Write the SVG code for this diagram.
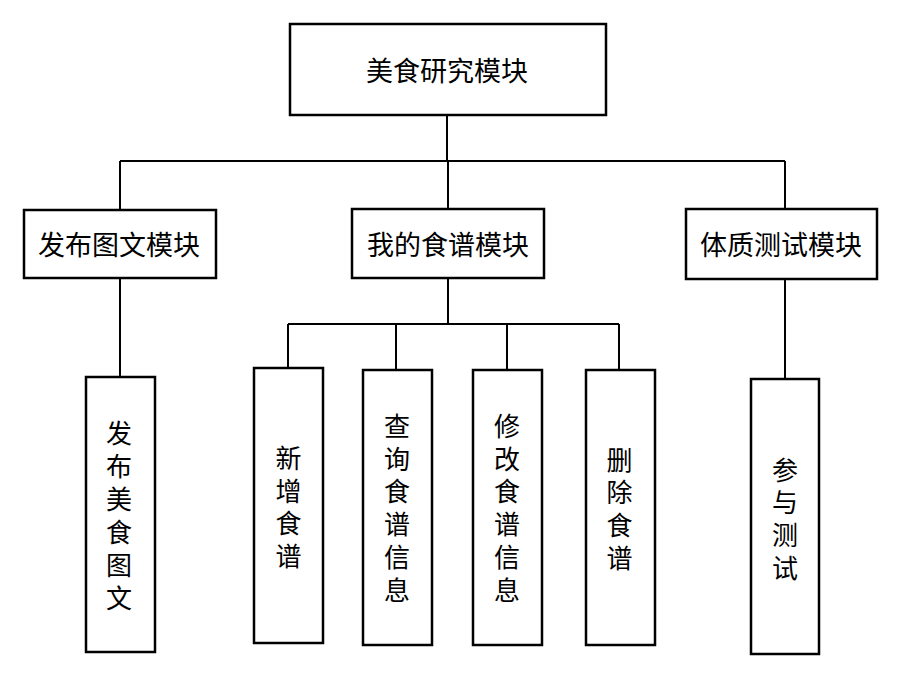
<svg xmlns="http://www.w3.org/2000/svg" width="901" height="681" viewBox="0 0 901 681">
<style>
.box{fill:#fff;stroke:#000;stroke-width:2.5}
.ln{fill:none;stroke:#000;stroke-width:2}
text{font-family:"Noto Sans CJK SC","Noto Sans",sans-serif;fill:#000;text-anchor:middle;dominant-baseline:central}
.h{font-size:27px}
.v{font-size:26px}
</style>
<rect width="901" height="681" fill="#fff"/>
<g id="connectors">
<path class="ln" d="M447,115V161M120,161H785M120,161V210M448,161V209M785,161V209"/>
<path class="ln" d="M120,278V377M785,279V379M448,278V324M288,324H619M288,324V368M396,324V370M507,324V370M619,324V370"/>
</g>
<g id="root"><rect class="box" x="290" y="24" width="316" height="91"/><text class="h" x="447" y="69">美食研究模块</text></g>
<g id="publish"><rect class="box" x="24" y="210" width="192" height="68"/><text class="h" x="119" y="243">发布图文模块</text></g>
<g id="recipes"><rect class="box" x="352" y="209" width="192" height="69"/><text class="h" x="448" y="243">我的食谱模块</text></g>
<g id="physique"><rect class="box" x="686" y="209" width="191" height="70"/><text class="h" x="781" y="243">体质测试模块</text></g>
<g id="publish-food"><rect class="box" x="86" y="377" width="69" height="275"/>
<text class="v"><tspan x="119" y="430.5">发</tspan><tspan x="119" y="463.5">布</tspan><tspan x="119" y="496.5">美</tspan><tspan x="119" y="529.5">食</tspan><tspan x="119" y="562.5">图</tspan><tspan x="119" y="595.5">文</tspan></text></g>
<g id="add-recipe"><rect class="box" x="254" y="368" width="69" height="275"/>
<text class="v"><tspan x="288.5" y="456">新</tspan><tspan x="288.5" y="488.7">增</tspan><tspan x="288.5" y="521.4">食</tspan><tspan x="288.5" y="554">谱</tspan></text></g>
<g id="query-recipe"><rect class="box" x="363" y="370" width="69" height="275"/>
<text class="v"><tspan x="397" y="424">查</tspan><tspan x="397" y="456.7">询</tspan><tspan x="397" y="489.4">食</tspan><tspan x="397" y="522.1">谱</tspan><tspan x="397" y="554.8">信</tspan><tspan x="397" y="587.5">息</tspan></text></g>
<g id="edit-recipe"><rect class="box" x="473" y="370" width="69" height="275"/>
<text class="v"><tspan x="507" y="424">修</tspan><tspan x="507" y="456.7">改</tspan><tspan x="507" y="489.4">食</tspan><tspan x="507" y="522.1">谱</tspan><tspan x="507" y="554.8">信</tspan><tspan x="507" y="587.5">息</tspan></text></g>
<g id="delete-recipe"><rect class="box" x="586" y="370" width="69" height="275"/>
<text class="v"><tspan x="619.5" y="457.5">删</tspan><tspan x="619.5" y="490.2">除</tspan><tspan x="619.5" y="522.9">食</tspan><tspan x="619.5" y="555.5">谱</tspan></text></g>
<g id="take-test"><rect class="box" x="751" y="379" width="68" height="275"/>
<text class="v"><tspan x="785" y="467.5">参</tspan><tspan x="785" y="500.3">与</tspan><tspan x="785" y="533.1">测</tspan><tspan x="785" y="566">试</tspan></text></g>
</svg>
